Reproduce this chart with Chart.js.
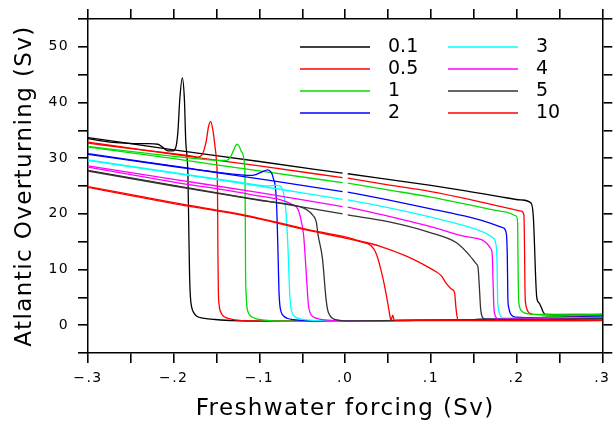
<!DOCTYPE html>
<html>
<head>
<meta charset="utf-8">
<title>Atlantic overturning hysteresis</title>
<script src="https://cdn.jsdelivr.net/npm/chart.js@4.4.1/dist/chart.umd.min.js"></script>
<style>
  html, body { margin: 0; padding: 0; background: #fff; }
  #wrap { width: 616px; height: 423px; }
</style>
</head>
<body>
<div id="wrap"><canvas id="chart" width="616" height="423"></canvas></div>
<script>
// rates of change of the forcing, as in the legend
const rates = ['0.1', '0.5', '1', '2', '3', '4', '5', '10'];
const colors = ['#000000', '#ff0000', '#00dd00', '#0000ff', '#00ffff', '#ff00ff', '#333333', '#ff0000'];

// [forcing (Sv), overturning (Sv)]
// upXX = increasing forcing (on state -> collapse), dnXX = return branch (recovery -> floor)
const up01 = [[-0.3, 33.7], [-0.2, 31.5], [-0.1, 29.4], [-0.003, 27.3], [0, null], [0.003, 27.2], [0.1, 25.1], [0.145, 24.0],
  [0.18, 23.1], [0.205, 22.5], [0.217, 21.9], [0.2195, 19.5], [0.2235, 5.0], [0.2262, 4.0], [0.2288, 3.2], [0.2308, 2.4],
  [0.2335, 1.95], [0.26, 1.9], [0.3, 1.85]];
const dn01 = [[-0.3, 33.5], [-0.275, 32.9], [-0.232, 32.6], [-0.2184, 32.5], [-0.2125, 31.9], [-0.2067, 31.3], [-0.2008, 31.3],
  [-0.197, 32.3], [-0.195, 35.0], [-0.193, 40.4], [-0.19, 44.4], [-0.1875, 40.4], [-0.186, 33.2], [-0.1845, 30.2],
  [-0.1834, 26.9], [-0.1825, 18.0], [-0.1815, 9.0], [-0.1805, 5.0], [-0.179, 3.2], [-0.1765, 2.2], [-0.173, 1.6],
  [-0.166, 1.25], [-0.154, 1.05], [-0.131, 0.8], [-0.05, 0.7], [0.05, 0.8], [0.15, 1.0], [0.22, 1.3], [0.3, 1.85]];

const up05 = [[-0.3, 32.9], [-0.2, 30.7], [-0.1, 28.6], [-0.003, 26.5], [0, null], [0.003, 26.4], [0.05, 25.2], [0.1, 24.0],
  [0.145, 22.6], [0.191, 21.0], [0.2055, 20.5], [0.2085, 19.8], [0.2094, 12.0], [0.2098, 6.0], [0.2105, 4.0], [0.2118, 3.0],
  [0.2135, 2.4], [0.217, 2.05], [0.223, 1.9], [0.26, 1.8], [0.3, 1.75]];
const dn05 = [[-0.3, 32.7], [-0.25, 31.7], [-0.2, 30.8], [-0.18, 30.4], [-0.1717, 30.2], [-0.1666, 30.7], [-0.1619, 33.2],
  [-0.1595, 35.6], [-0.1569, 36.6], [-0.1545, 35.2], [-0.152, 32.3], [-0.1502, 29.6], [-0.1489, 24.0], [-0.1484, 12.0],
  [-0.1479, 6.0], [-0.147, 3.6], [-0.1455, 2.5], [-0.1425, 1.7], [-0.1375, 1.25], [-0.128, 0.95], [-0.1152, 0.75],
  [-0.05, 0.72], [0.05, 0.82], [0.15, 1.0], [0.23, 1.35], [0.3, 1.7]];

const up1 = [[-0.3, 32.0], [-0.2, 29.9], [-0.1, 27.7], [-0.003, 25.6], [0, null], [0.003, 25.5], [0.05, 24.3], [0.1, 23.0],
  [0.145, 21.6], [0.188, 20.3], [0.1997, 19.6], [0.2012, 18.3], [0.2018, 9.0], [0.2023, 5.0], [0.2035, 3.3], [0.2055, 2.6],
  [0.209, 2.2], [0.215, 2.0], [0.222, 1.95], [0.3, 2.0]];
const dn1 = [[-0.3, 32.1], [-0.228, 30.8], [-0.18, 30.0], [-0.15, 29.6], [-0.1386, 29.6], [-0.1327, 30.5], [-0.1295, 31.7],
  [-0.1262, 32.5], [-0.1235, 32.1], [-0.1211, 31.2], [-0.1172, 28.4], [-0.1166, 22.0], [-0.1162, 10.0], [-0.1155, 5.5],
  [-0.1145, 3.2], [-0.1125, 2.1], [-0.109, 1.5], [-0.1036, 1.15], [-0.094, 0.9], [-0.0842, 0.75], [-0.02, 0.7],
  [0.06, 0.82], [0.15, 1.0], [0.23, 1.4], [0.3, 2.0]];

const up2 = [[-0.3, 30.7], [-0.2, 28.5], [-0.088, 26.0], [-0.003, 24.0], [0, null], [0.003, 23.9], [0.05, 22.5], [0.1, 20.9],
  [0.145, 19.4], [0.17, 18.3], [0.184, 17.5], [0.188, 16.5], [0.1892, 12.0], [0.1898, 5.0], [0.1908, 3.2], [0.1925, 2.2],
  [0.195, 1.7], [0.1985, 1.45], [0.23, 1.35], [0.3, 1.5]];
const dn2 = [[-0.3, 30.8], [-0.228, 29.2], [-0.15, 27.5], [-0.108, 26.9], [-0.1036, 27.1], [-0.0977, 27.5], [-0.09, 27.9],
  [-0.0865, 27.5], [-0.0842, 26.6], [-0.0802, 22.4], [-0.0784, 13.4], [-0.0772, 6.0], [-0.0762, 3.6], [-0.0745, 2.3],
  [-0.0715, 1.6], [-0.067, 1.2], [-0.0609, 1.0], [-0.03, 0.75], [0.06, 0.82], [0.15, 1.0], [0.23, 1.3], [0.3, 1.5]];

const up3 = [[-0.3, 29.6], [-0.2, 27.3], [-0.1, 25.0], [-0.003, 22.6], [0, null], [0.003, 22.5], [0.05, 21.1], [0.1, 19.4],
  [0.145, 17.6], [0.1724, 15.7], [0.1764, 14.0], [0.1772, 11.0], [0.1778, 5.0], [0.1788, 3.0], [0.1802, 2.0], [0.1825, 1.45],
  [0.186, 1.25], [0.23, 1.2], [0.3, 1.4]];
const dn3 = [[-0.3, 29.7], [-0.2, 27.4], [-0.12, 25.6], [-0.09, 25.0], [-0.0815, 25.1], [-0.0784, 25.1], [-0.0745, 24.8],
  [-0.0715, 23.5], [-0.0686, 19.4], [-0.0662, 12.0], [-0.0652, 7.4], [-0.0638, 3.8], [-0.0622, 2.4], [-0.06, 1.7],
  [-0.0569, 1.35], [-0.051, 1.1], [-0.0452, 0.95], [-0.01, 0.75], [0.06, 0.82], [0.15, 1.0], [0.23, 1.2], [0.3, 1.4]];

const up4 = [[-0.3, 28.6], [-0.2, 26.2], [-0.1, 23.8], [-0.003, 21.3], [0, null], [0.003, 21.2], [0.05, 19.6], [0.1, 17.7],
  [0.145, 15.8], [0.1706, 13.6], [0.1718, 12.0], [0.1725, 8.0], [0.1735, 3.2], [0.1745, 2.0], [0.176, 1.4], [0.1785, 1.1],
  [0.23, 1.1], [0.3, 1.3]];
const dn4 = [[-0.3, 28.4], [-0.2, 25.7], [-0.111, 23.5], [-0.0609, 21.6], [-0.055, 20.8], [-0.0511, 18.6], [-0.0485, 16.2],
  [-0.0465, 12.0], [-0.0446, 7.4], [-0.043, 3.8], [-0.0412, 2.4], [-0.039, 1.7], [-0.0356, 1.35], [-0.03, 1.1],
  [-0.024, 0.95], [0.0, 0.75], [0.06, 0.82], [0.15, 1.0], [0.23, 1.15], [0.3, 1.3]];

const up5 = [[-0.3, 27.8], [-0.2, 25.1], [-0.1, 22.5], [-0.003, 20.0], [0, null], [0.003, 19.8], [0.05, 18.6], [0.1, 16.6],
  [0.13, 14.8], [0.1453, 12.5], [0.153, 11.0], [0.155, 10.4], [0.1565, 7.0], [0.158, 3.0], [0.1592, 1.8], [0.161, 1.25],
  [0.165, 1.05], [0.23, 1.0], [0.3, 1.15]];
const dn5 = [[-0.3, 27.7], [-0.2, 25.0], [-0.1, 22.4], [-0.053, 21.3], [-0.0434, 20.6], [-0.0375, 19.7], [-0.0336, 18.5],
  [-0.0317, 16.3], [-0.0265, 12.0], [-0.0225, 5.0], [-0.0205, 2.8], [-0.018, 1.8], [-0.0145, 1.2], [-0.008, 0.9],
  [0.0, 0.78], [0.06, 0.85], [0.15, 1.0], [0.23, 1.05], [0.3, 1.15]];

const up10 = [[-0.3, 24.9], [-0.2, 22.0], [-0.111, 19.6], [-0.05, 17.4], [0.0, 15.85], [0.017, 15.15], [0.04, 14.2],
  [0.0714, 12.4], [0.09, 11.0], [0.105, 9.7], [0.112, 8.9], [0.118, 7.5], [0.124, 6.5], [0.1277, 5.8], [0.129, 3.5],
  [0.1305, 1.6], [0.132, 0.85], [0.2, 0.82], [0.3, 0.85]];
const dn10 = [[-0.3, 24.75], [-0.2, 21.85], [-0.111, 19.45], [-0.05, 17.25], [0.0, 15.65], [0.017, 15.0], [0.03, 14.3],
  [0.0364, 12.8], [0.0441, 8.4], [0.0499, 3.8], [0.0527, 1.3], [0.0535, 0.9], [0.0555, 1.8], [0.0572, 0.9], [0.1, 0.8],
  [0.2, 0.8], [0.3, 0.8]];

const branches = [[up01, dn01], [up05, dn05], [up1, dn1], [up2, dn2], [up3, dn3], [up4, dn4], [up5, dn5], [up10, dn10]];

// axis labels
const xLabelAt = [-30, -20, -10, 0, 10, 20, 30];
const xLabelText = ['\u2212.3', '\u2212.2', '\u2212.1', '.0', '.1', '.2', '.3'];
const yLabelAt = [0, 10, 20, 30, 40, 50];

function toPoints(arr) {
  return arr.map(p => ({ x: p[0], y: p[1] }));
}

const datasets = [];
branches.forEach((pair, i) => {
  pair.forEach(arr => {
    datasets.push({
      label: rates[i],
      data: toPoints(arr),
      showLine: true,
      borderColor: colors[i],
      borderWidth: 1.3,
      pointRadius: 0,
      fill: false,
      cubicInterpolationMode: 'monotone',
      order: branches.length - i  // later rates drawn on top
    });
  });
});

const spacing = {
  id: 'spacing',
  beforeDraw(chart) { chart.ctx.letterSpacing = '1.4px'; }
};

const rateLegend = {
  id: 'rateLegend',
  afterDraw(chart) {
    const ctx = chart.ctx;
    ctx.save();
    ctx.letterSpacing = '0px';
    ctx.font = '19px "DejaVu Sans"';
    ctx.textBaseline = 'middle';
    ctx.fillStyle = '#000';
    rates.forEach((r, i) => {
      const col = Math.floor(i / 4);
      const x0 = col ? 448 : 300;
      const y = 47 + (i % 4) * 22;
      ctx.strokeStyle = colors[i];
      ctx.lineWidth = 1.3;
      ctx.beginPath();
      ctx.moveTo(x0, y);
      ctx.lineTo(x0 + 70, y);
      ctx.stroke();
      ctx.fillText(r, x0 + 88, y);
    });
    ctx.restore();
  }
};

const tickGrid = { drawOnChartArea: false, drawTicks: true, tickLength: 10, color: '#000', lineWidth: 1.6 };
const frame = { display: true, color: '#000', width: 1.5 };

Chart.defaults.font.family = '"DejaVu Sans", sans-serif';
Chart.defaults.color = '#000';

new Chart(document.getElementById('chart'), {
  type: 'scatter',
  data: { datasets },
  options: {
    responsive: false,
    animation: false,
    layout: { padding: 0 },
    plugins: { legend: { display: false }, tooltip: { enabled: false } },
    scales: {
      x: {
        type: 'linear', position: 'bottom', min: -0.3, max: 0.3,
        grid: tickGrid, border: frame,
        ticks: {
          stepSize: 0.05, autoSkip: false, maxRotation: 0, maxTicksLimit: 30, padding: 7,
          font: { size: 14 },
          callback: v => {
            const k = xLabelAt.indexOf(Math.round(v * 100));
            return k < 0 ? '' : xLabelText[k];
          }
        },
        title: { display: true, text: 'Freshwater forcing (Sv)', font: { size: 23 }, padding: { top: 0, bottom: 0 } },
        afterFit: s => { s.height = 70; }
      },
      x2: {
        type: 'linear', position: 'top', min: -0.3, max: 0.3,
        grid: tickGrid, border: frame,
        ticks: { display: false, stepSize: 0.05, autoSkip: false, maxTicksLimit: 30 },
        afterFit: s => { s.height = 19; }
      },
      y: {
        type: 'linear', position: 'left', min: -5, max: 55,
        grid: tickGrid, border: frame,
        ticks: {
          stepSize: 5, autoSkip: false, maxTicksLimit: 30, padding: 9,
          font: { size: 14 },
          callback: v => yLabelAt.includes(v) ? String(v) : ''
        },
        title: { display: true, text: 'Atlantic Overturning (Sv)', font: { size: 23 }, padding: { top: 11, bottom: 0 } },
        afterFit: s => { s.width = 88; }
      },
      y2: {
        type: 'linear', position: 'right', min: -5, max: 55,
        grid: tickGrid, border: frame,
        ticks: { display: false, stepSize: 5, autoSkip: false, maxTicksLimit: 30 },
        afterFit: s => { s.width = 13; }
      }
    }
  },
  plugins: [spacing, rateLegend]
});
</script>
</body>
</html>
